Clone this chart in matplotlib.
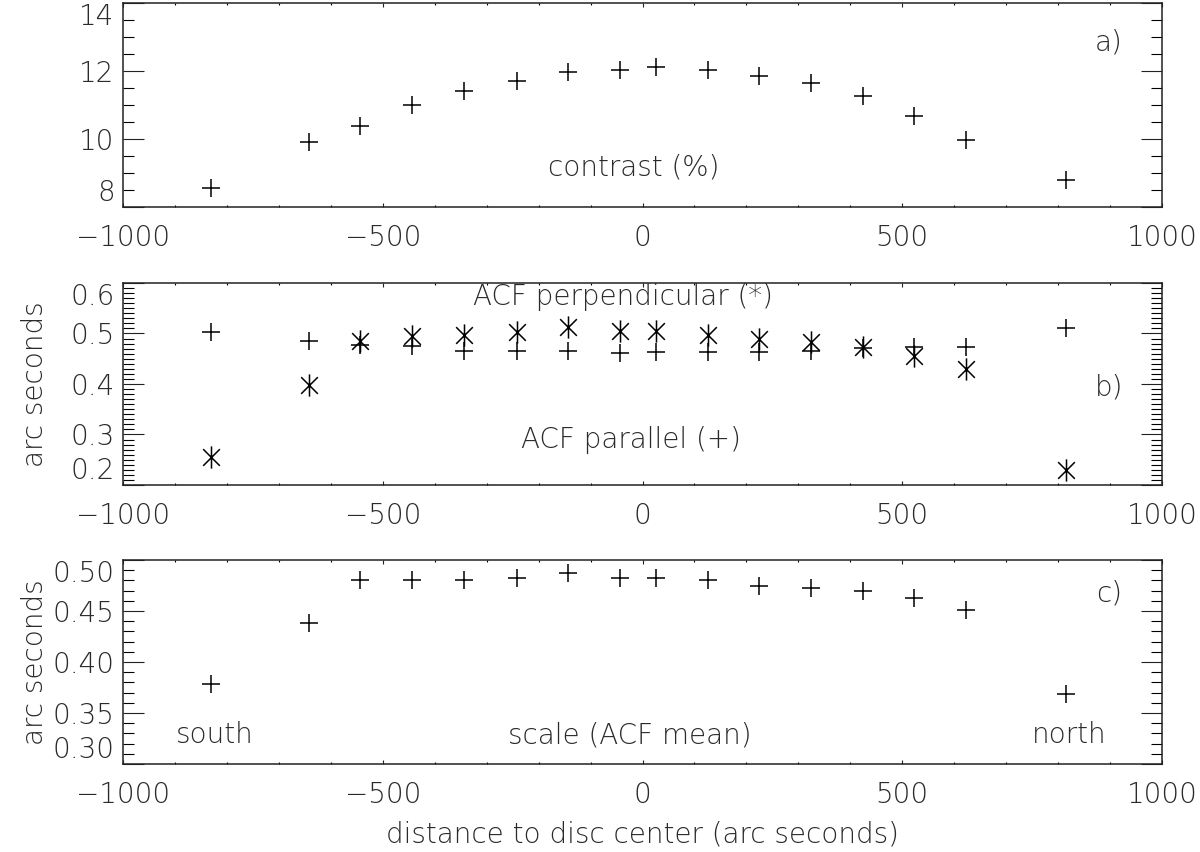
import numpy as np
import matplotlib
matplotlib.use("Agg")
import matplotlib.pyplot as plt
from matplotlib.path import Path
from matplotlib.ticker import MultipleLocator, FuncFormatter

# ---------------- data ----------------
distance = [-830, -642, -543, -444, -344, -242, -143, -43, 26, 126, 225, 324, 424, 523, 623, 815]
contrast = [8.55, 9.92, 10.39, 11.00, 11.42, 11.71, 11.98, 12.03, 12.13, 12.03, 11.86, 11.66, 11.27, 10.69, 9.97, 8.79]
acf_parallel = [0.502, 0.485, 0.477, 0.475, 0.465, 0.465, 0.465, 0.461, 0.464, 0.464, 0.464, 0.465, 0.471, 0.473, 0.474, 0.511]
acf_perpendicular = [0.256, 0.398, 0.485, 0.495, 0.497, 0.502, 0.512, 0.504, 0.504, 0.497, 0.489, 0.484, 0.473, 0.455, 0.429, 0.230]
acf_mean = [0.378, 0.438, 0.480, 0.480, 0.480, 0.482, 0.487, 0.482, 0.482, 0.480, 0.4745, 0.473, 0.4696, 0.463, 0.451, 0.369]

TXT = "#2a2a2a"
plt.rcParams["font.family"] = ["DejaVu Sans"]
plt.rcParams["font.weight"] = "light"
plt.rcParams["axes.labelweight"] = "light"

fig = plt.figure(figsize=(12, 8.52), dpi=100)

W = 1200.0
H = 852.0
left = 123 / W
width = 1039 / W

def make_ax(top_px, bot_px):
    return fig.add_axes([left, 1 - bot_px / H, width, (bot_px - top_px) / H])

axa = make_ax(3, 207)
axb = make_ax(283, 485)
axc = make_ax(560, 764)

# asterisk marker: vertical + X
ast = Path([(0, -1), (0, 1), (-0.75, -0.75), (0.75, 0.75), (-0.75, 0.75), (0.75, -0.75)],
           [Path.MOVETO, Path.LINETO, Path.MOVETO, Path.LINETO, Path.MOVETO, Path.LINETO])

pkw = dict(linestyle="none", color="black", markeredgewidth=1.1)

axa.plot(distance, contrast, marker="+", markersize=13, **pkw)
axb.plot(distance, acf_parallel, marker="+", markersize=13, **pkw)
axb.plot(distance, acf_perpendicular, marker=ast, markersize=16, **pkw)
axc.plot(distance, acf_mean, marker="+", markersize=13, **pkw)

def fmt_factory(nd):
    def f(v, pos):
        s = f"{abs(v):.{nd}f}"
        return ("\u2212" + s) if v < -1e-12 else s
    return FuncFormatter(f)

def style(ax, ylim, ymaj, ymin, nd):
    ax.set_xlim(-1000, 1000)
    ax.set_ylim(*ylim)
    ax.xaxis.set_major_locator(MultipleLocator(500))
    ax.xaxis.set_minor_locator(MultipleLocator(100))
    ax.yaxis.set_major_locator(MultipleLocator(ymaj))
    ax.yaxis.set_minor_locator(MultipleLocator(ymin))
    ax.yaxis.set_major_formatter(fmt_factory(nd))
    ax.xaxis.set_major_formatter(fmt_factory(0))
    for s in ax.spines.values():
        s.set_linewidth(1.1)
        s.set_color("#222222")
    ax.tick_params(axis="x", which="major", direction="in", length=3, width=0.8,
                   top=True, bottom=True, pad=12, labelsize=20, colors="#222222",
                   labelcolor=TXT)
    ax.tick_params(axis="x", which="minor", direction="in", length=1.6, width=0.8,
                   top=True, bottom=True)
    ax.tick_params(axis="y", which="major", direction="in", length=15, width=0.8,
                   left=True, right=True, pad=6, labelsize=20, colors="#222222",
                   labelcolor=TXT)
    ax.tick_params(axis="y", which="minor", direction="in", length=8, width=0.8,
                   left=True, right=True)

style(axa, (8, 14), 2, 0.5, 0)
style(axb, (0.2, 0.6), 0.1, 0.01, 1)
style(axc, (0.30, 0.50), 0.05, 0.01, 2)

tkw = dict(fontsize=20, color=TXT, ha="center", va="center")
axa.text(0.949, 0.804, "a)", transform=axa.transAxes, **tkw)
axa.text(0.492, 0.196, "contrast (%)", transform=axa.transAxes, **tkw)

axb.text(0.481, 0.93, "ACF perpendicular (*)", transform=axb.transAxes, **tkw)
axb.text(0.489, 0.223, "ACF parallel (+)", transform=axb.transAxes, **tkw)
axb.text(0.949, 0.485, "b)", transform=axb.transAxes, **tkw)

axc.text(0.949, 0.838, "c)", transform=axc.transAxes, **tkw)
axc.text(0.0885, 0.142, "south", transform=axc.transAxes, **tkw)
axc.text(0.488, 0.142, "scale (ACF mean)", transform=axc.transAxes, **tkw)
axc.text(0.911, 0.142, "north", transform=axc.transAxes, **tkw)

for ax in (axb, axc):
    ax.set_ylabel("arc seconds", fontsize=20, color=TXT, va="center")
    ax.yaxis.set_label_coords(-0.0847, 0.5)

axc.set_xlabel("distance to disc center (arc seconds)", fontsize=20, color=TXT, va="center")
axc.xaxis.set_label_coords(0.5, -0.348)

fig.canvas.draw()
for ax in (axa, axb, axc):
    lo, hi = ax.get_ylim()
    for t in ax.yaxis.get_major_ticks():
        v = t.get_loc()
        if abs(v - lo) < 1e-9:
            t.label1.set_verticalalignment("bottom")
        elif abs(v - hi) < 1e-9:
            t.label1.set_verticalalignment("top")

fig.savefig("out.png", dpi=100)
